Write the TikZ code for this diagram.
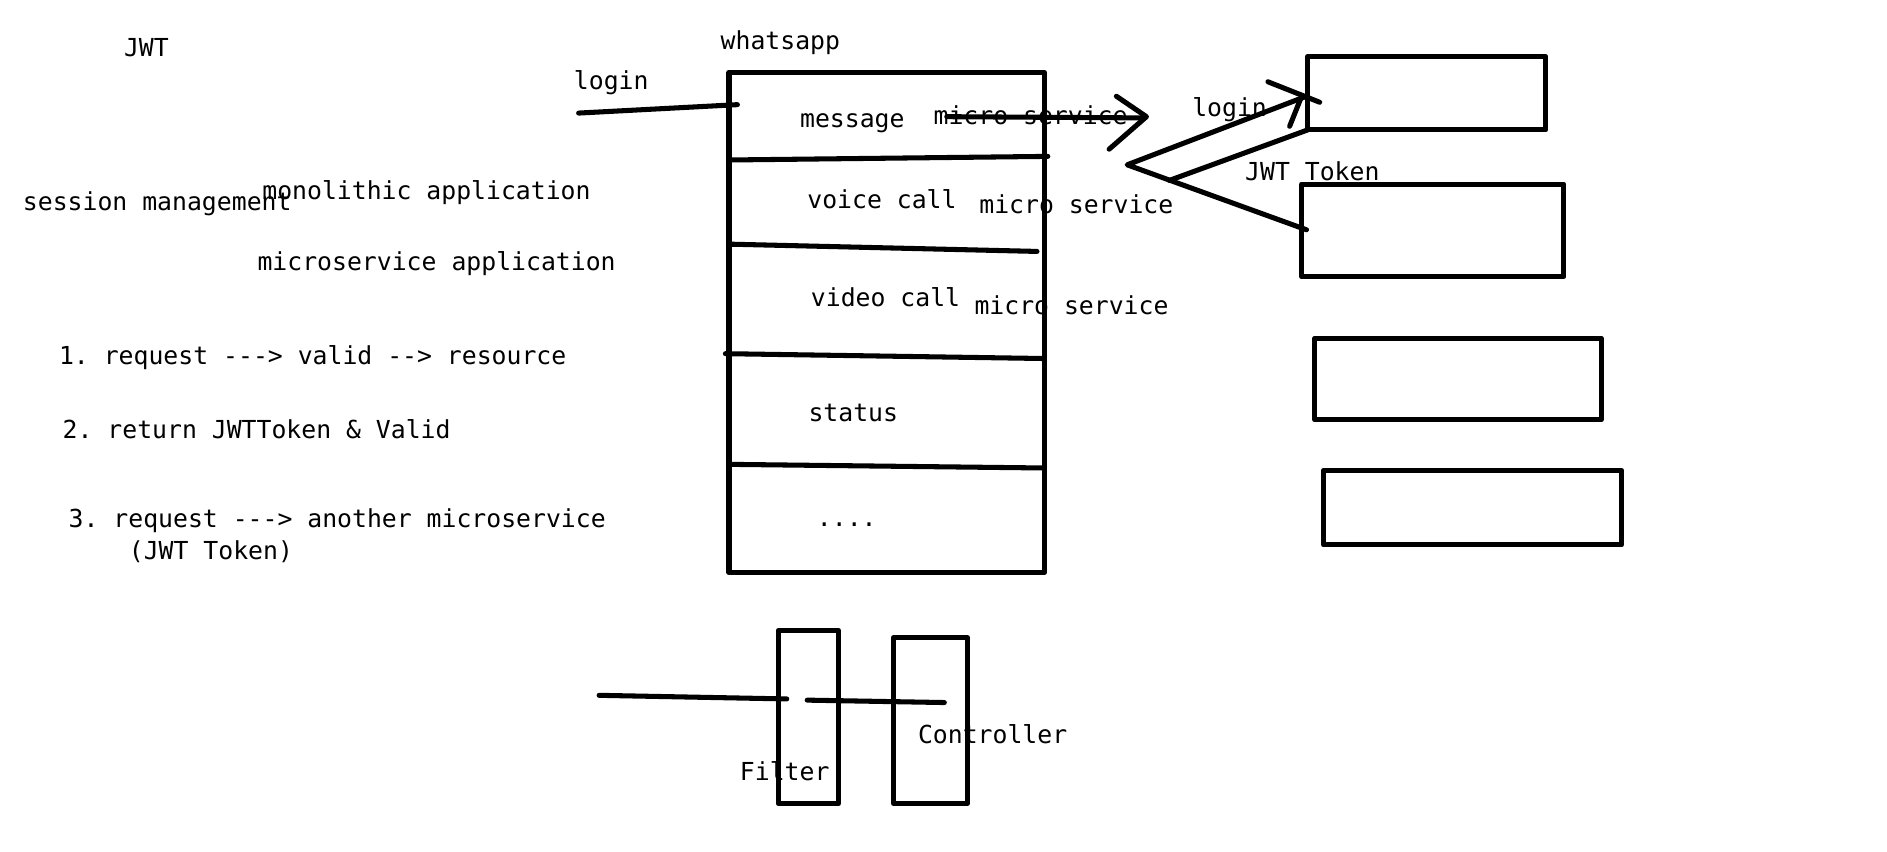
\documentclass[tikz,border=0pt]{standalone}
\usepackage{fontspec}
\setmonofont{DejaVu Sans Mono}
\begin{document}
\begin{tikzpicture}[x=1pt,y=-1pt, line width=4.2pt, line cap=round, line join=round,
  lbl/.style={font=\ttfamily\fontsize{20.6}{24}\selectfont, inner sep=0pt, anchor=mid west},
  box/.style={draw, line width=4.2pt, inner sep=0pt, outer sep=0pt}]
\useasboundingbox (0,0) rectangle (1568.6,708.2);

% main box
\node[box, minimum width=262pt, minimum height=416pt] (app) at (737,268) {};
% right boxes
\node[box, minimum width=198pt, minimum height=61pt] (r1) at (1186,77.5) {};
\node[box, minimum width=218pt, minimum height=77pt] (r2) at (1191,191.5) {};
\node[box, minimum width=238pt, minimum height=68pt] (r3) at (1212,315) {};
\node[box, minimum width=248pt, minimum height=62pt] (r4) at (1224,422) {};
% filter / controller
\node[box, minimum width=50pt, minimum height=144pt] (filter) at (672,596) {};
\node[box, minimum width=61pt, minimum height=138pt] (ctrl) at (773.5,599) {};

% dividers
\coordinate (d1a) at (606,133); \coordinate (d1b) at (871,130);
\coordinate (d2a) at (608,203); \coordinate (d2b) at (862,209);
\coordinate (d3a) at (603,294); \coordinate (d3b) at (866,298);
\coordinate (d4a) at (606,386); \coordinate (d4b) at (866,389);
\draw (d1a) -- (d1b);
\draw (d2a) -- (d2b);
\draw (d3a) -- (d3b);
\draw (d4a) -- (d4b);

% login line
\coordinate (lg0) at (481,94); \coordinate (lg1) at (613,87);
\draw (lg0) -- (lg1);

% arrow out of message
\coordinate (ar0) at (787,97); \coordinate (ar1) at (948,98);
\coordinate (ch0) at (928,80); \coordinate (ch1) at (953,97); \coordinate (ch2) at (922,124);
\draw (ar0) -- (ar1);
\draw (ch0) -- (ch1) -- (ch2);

% "<" shape to right boxes
\coordinate (vx) at (937,137);
\coordinate (tip) at (1086,80);
\coordinate (h1a) at (1054,68); \coordinate (h1b) at (1097,85);
\coordinate (h2a) at (1072,105); \coordinate (h2b) at (1082,80);
\coordinate (m0) at (972,150); \coordinate (m1) at (1087,108);
\coordinate (lw) at (1086,191);
\draw (tip) -- (vx) -- (lw);
\draw (h1a) -- (h1b);
\draw (h2a) -- (h2b);
\draw (m0) -- (m1);

% bottom lines
\coordinate (bl0) at (498,578); \coordinate (bl1) at (654,581);
\coordinate (bl2) at (671,582); \coordinate (bl3) at (785,584);
\draw (bl0) -- (bl1);
\draw (bl2) -- (bl3);

% texts
\node[lbl] (t1) at (101,45) {JWT};
\node[lbl] (t2) at (597,39) {whatsapp};
\node[lbl] (t3) at (475,72) {login};
\node[lbl] (t4) at (663,104) {message};
\node[lbl] (t5) at (774,101) {micro service};
\node[lbl] (t6) at (989,95) {login};
\node[lbl] (t7) at (1033,148) {JWT Token};
\node[lbl] (t8) at (17,173) {session management};
\node[lbl] (t9) at (216,164) {monolithic application};
\node[lbl] (t10) at (669,171) {voice call};
\node[lbl] (t11) at (812,175) {micro service};
\node[lbl] (t12) at (212,223) {microservice application};
\node[lbl] (t13) at (672,253) {video call};
\node[lbl] (t14) at (808,259) {micro service};
\node[lbl] (t15) at (47,301) {1. request ---> valid --> resource};
\node[lbl] (t16) at (670,348) {status};
\node[lbl] (t17) at (50,362) {2. return JWTToken \& Valid};
\node[lbl] (t18) at (55,436) {3. request ---> another microservice};
\node[lbl] (t19) at (105,463) {(JWT Token)};
\node[lbl, anchor=base west] (t20) at (677,438) {....};
\node[lbl] (t21) at (761,616) {Controller};
\node[lbl] (t22) at (613,647) {Filter};
\end{tikzpicture}
\end{document}
